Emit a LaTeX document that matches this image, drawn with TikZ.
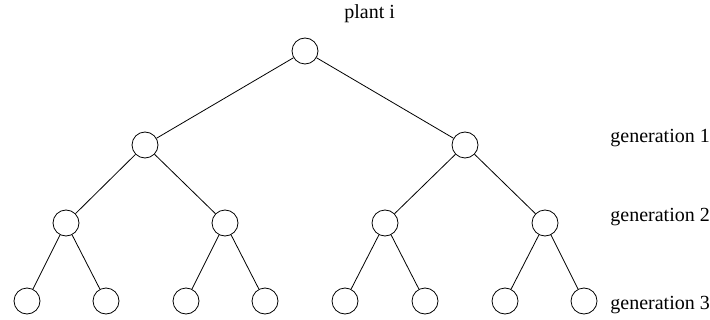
\documentclass[tikz,border=0pt]{standalone}
\usepackage{fontspec}
\setmainfont{Liberation Serif}
\usepackage{tikz}

\tikzset{plant/.style={draw,circle,minimum size=13pt,inner sep=0pt},
  genlabel/.style={anchor=west,inner sep=0pt,font=\fontsize{10}{12}\selectfont}}

\begin{document}
\begin{tikzpicture}[x=0.5pt,y=-0.5pt]
\useasboundingbox (0,0) rectangle (710,320);
\node[plant] (r) at (305,51) {};
\node[genlabel] (lr) at (344,14) {plant i};
% generation 1
\node[plant] (a) at (145,145) {};
\node[plant] (b) at (465,145) {};
% generation 2
\node[plant] (aa) at (66,223) {};
\node[plant] (ab) at (225,223) {};
\node[plant] (ba) at (385,223) {};
\node[plant] (bb) at (545,223) {};
% generation 3
\node[plant] (aaa) at (27,301) {};
\node[plant] (aab) at (106,301) {};
\node[plant] (aba) at (186,301) {};
\node[plant] (abb) at (265,301) {};
\node[plant] (baa) at (345,301) {};
\node[plant] (bab) at (425,301) {};
\node[plant] (bba) at (505,301) {};
\node[plant] (bbb) at (584,301) {};
\draw (r)--(a) (r)--(b);
\draw (a)--(aa) (a)--(ab) (b)--(ba) (b)--(bb);
\draw (aa)--(aaa) (aa)--(aab) (ab)--(aba) (ab)--(abb);
\draw (ba)--(baa) (ba)--(bab) (bb)--(bba) (bb)--(bbb);
\node[genlabel] (g1) at (610,138) {generation 1};
\node[genlabel] (g2) at (610,217) {generation 2};
\node[genlabel] (g3) at (610,305) {generation 3};
\end{tikzpicture}
\end{document}
